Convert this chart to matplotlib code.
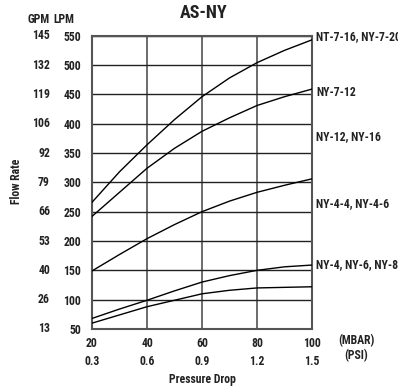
import matplotlib
matplotlib.use("Agg")
import matplotlib.pyplot as plt

# pressure drop (mbar) and matching psi labels
mbar = [20, 30, 40, 50, 60, 70, 80, 90, 100]
xtick_mbar = [20, 40, 60, 80, 100]
xtick_psi = ["0.3", "0.6", "0.9", "1.2", "1.5"]

# flow rate axis
lpm_ticks = [50, 100, 150, 200, 250, 300, 350, 400, 450, 500, 550]
gpm_ticks = ["13", "26", "40", "53", "66", "79", "92", "106", "119", "132", "145"]

# curves (LPM) read at each mbar value
curve_a = [266, 318, 364, 407, 446, 478, 504, 525, 543]
curve_b = [242, 283, 324, 358, 387, 410, 431, 446, 459]
curve_c = [149, 177, 204, 228, 250, 268, 283, 295, 306]
curve_d = [68, 84, 99, 115, 130, 141, 150, 156, 159]
curve_e = [60, 74, 88, 99, 110, 116, 120, 121, 122]

curve_labels = ["NT-7-16, NY-7-20", "NY-7-12", "NY-12, NY-16", "NY-4-4, NY-4-6", "NY-4, NY-6, NY-8"]
label_lpm = [549, 453, 378, 264, 160]

plt.rcParams["font.family"] = ["Roboto Condensed", "DejaVu Sans"]
plt.rcParams["font.weight"] = "bold"
FS = 8.5
TC = "#222"

fig = plt.figure(figsize=(3.98, 3.88), dpi=100)
ax = fig.add_axes([92 / 398, 59 / 388, 220 / 398, 293.3 / 388])

for c in [curve_a, curve_b, curve_c, curve_d, curve_e]:
    ax.plot(mbar, c, color="black", lw=1.0, zorder=3)

ax.set_xlim(20, 100)
ax.set_ylim(50, 550)
ax.set_yticks(lpm_ticks)
ax.set_yticklabels([str(v) for v in lpm_ticks], fontsize=FS, fontweight="bold", color=TC)
ax.set_xticks(xtick_mbar)
ax.set_xticklabels([f"{m}\n{p}" for m, p in zip(xtick_mbar, xtick_psi)],
                   fontsize=FS, fontweight="bold", color=TC, linespacing=1.45)
ax.tick_params(length=0, pad=6)
ax.tick_params(axis="y", pad=8)
ax.grid(True, axis="y", color="#222", lw=1.0, zorder=1)
ax.grid(True, axis="x", color="#444", lw=1.1, zorder=1)
for s in ax.spines.values():
    s.set_color("#555")
    s.set_linewidth(1.5)

ytr = ax.get_yaxis_transform()
for v, g in zip(lpm_ticks, gpm_ticks):
    ax.text(-0.191, v, g, transform=ytr, ha="right", va="center",
            fontsize=FS, fontweight="bold", color=TC)
ax.text(-0.245, 1.055, "GPM", transform=ax.transAxes, ha="center", va="center",
        fontsize=FS, fontweight="bold", color=TC)
ax.text(-0.13, 1.055, "LPM", transform=ax.transAxes, ha="center", va="center",
        fontsize=FS, fontweight="bold", color=TC)

for lab, v in zip(curve_labels, label_lpm):
    ax.text(1.02, v, lab, transform=ytr, ha="left", va="center",
            fontsize=FS, fontweight="bold", color=TC, clip_on=False)

ax.text(1.2, -0.04, "(MBAR)", transform=ax.transAxes, ha="center", va="center",
        fontsize=FS, fontweight="bold", color=TC)
ax.text(1.2, -0.09, "(PSI)", transform=ax.transAxes, ha="center", va="center",
        fontsize=FS, fontweight="bold", color=TC)

fig.text(204 / 398, 1 - 13.5 / 388, "AS-NY", ha="center", va="center",
         fontsize=13, fontweight="bold", color=TC)
fig.text(202 / 398, 1 - 379 / 388, "Pressure Drop", ha="center", va="center",
         fontsize=FS, fontweight="bold", color=TC)
fig.text(17 / 398, 1 - 181 / 388, "Flow Rate", ha="center", va="center", rotation=90,
         fontsize=FS, fontweight="bold", color=TC)

fig.savefig("out.png", dpi=100)
